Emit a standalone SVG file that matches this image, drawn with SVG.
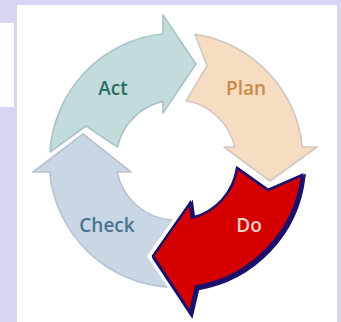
<svg xmlns="http://www.w3.org/2000/svg" width="341" height="322" viewBox="0 0 341 322">
<defs>
<style>
.lbl{font-family:"Open Sans","Noto Sans","Liberation Sans",sans-serif;font-weight:600;font-size:19px;text-anchor:middle}
.seg{stroke-width:1.6;stroke-linejoin:round}
</style>
<path id="doShape" d="M237,168 L268,190 L302,175 A128,128 0 0 1 196,286.5 L190,312 L153,256 L190,203 L192,217.8 A60,60 0 0 0 237,168 Z"/>
</defs>
<rect x="0" y="0" width="341" height="322" fill="#d6d6f2"/>
<rect x="0" y="23" width="14" height="84" fill="#ffffff"/>
<rect x="17" y="5" width="320" height="317" fill="#ffffff"/>
<g id="connectors"></g>
<g id="act">
<path class="seg" fill="#c2dcdc" stroke="#a9c2c8" d="M50,152 L86,126 L117.5,147 A60,60 0 0 1 163,101.4 L163,113 L196,64 L163,15 L163,33.7 A127,127 0 0 0 50,152 Z"/>
<text class="lbl" x="113" y="95" fill="#2f6c64">Act</text>
</g>
<g id="plan">
<path class="seg" fill="#f6dcc0" stroke="#d2c8c2" d="M195,34.4 A127,127 0 0 1 302.3,147 L317,147 L270,181 L224,147 L234.6,147 A60,60 0 0 0 186,100.8 L207,66 Z"/>
<text class="lbl" x="246" y="95" fill="#c98b47">Plan</text>
</g>
<g id="check">
<path class="seg" fill="#c9d6e3" stroke="#b6c3d0" d="M33,172 L83,134 L131,172 L117.2,172 A60,60 0 0 0 172,220 L150,255 L168,287 A127,127 0 0 1 49.6,172 Z"/>
<text class="lbl" x="107" y="232" fill="#4a7391">Check</text>
</g>
<g id="do">
<use href="#doShape" fill="#ffffff" stroke="#ffffff" stroke-width="10" stroke-linejoin="miter"/>
<use href="#doShape" transform="translate(1.5,2)" fill="#1c106a" stroke="#1c106a" stroke-width="4" stroke-linejoin="miter"/>
<use href="#doShape" fill="#d40000" stroke="#1c106a" stroke-width="2.5" stroke-linejoin="miter"/>
<text class="lbl" x="249" y="232" fill="#f7d3c9">Do</text>
</g>
</svg>
